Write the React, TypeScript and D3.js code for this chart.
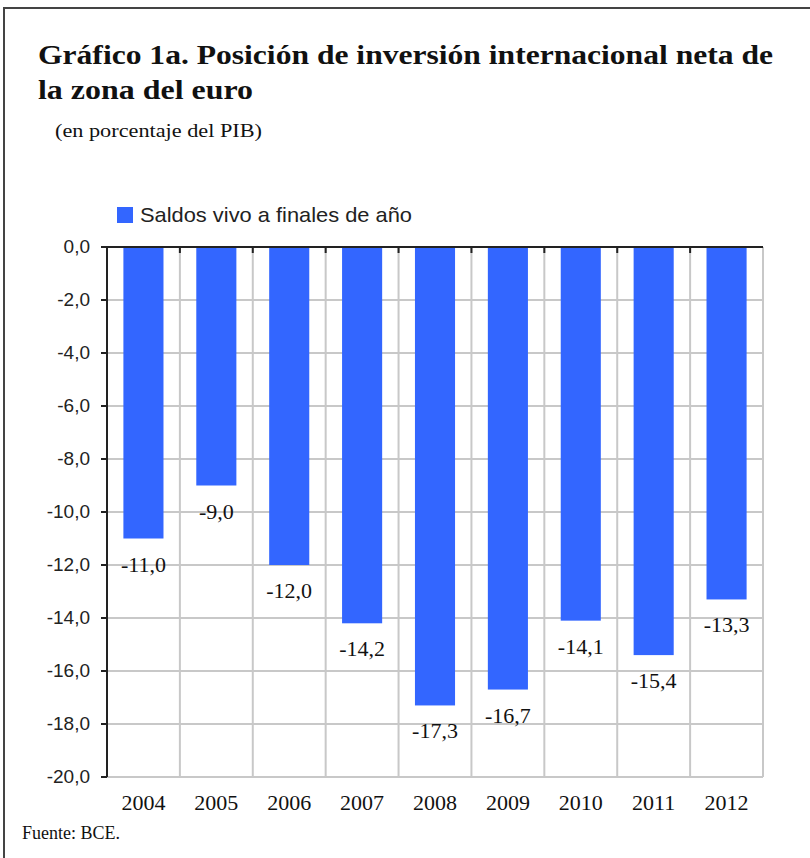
import React, { useEffect, useRef } from 'react';
import * as d3 from 'd3';

// datos del gráfico
const years = ['2004', '2005', '2006', '2007', '2008', '2009', '2010', '2011', '2012'];
const saldos = [-11.0, -9.0, -12.0, -14.2, -17.3, -16.7, -14.1, -15.4, -13.3];
const yTicks = [0, -2, -4, -6, -8, -10, -12, -14, -16, -18, -20];
const serieNombre = 'Saldos vivo a finales de año';

const fmt = (v: number) => v.toFixed(1).replace('.', ',');

const App = () => {
  const svgRef = useRef<SVGSVGElement>(null);

  useEffect(() => {
    const svg = d3.select(svgRef.current);
    svg.selectAll('*').remove();

    const width = 810;
    const height = 858;
    const left = 107, right = 763, top = 247, bottom = 777;

    svg.attr('width', width).attr('height', height);

    // marco exterior
    svg.append('rect')
      .attr('x', 4).attr('y', 8)
      .attr('width', 830).attr('height', 880)
      .attr('fill', 'none')
      .attr('stroke', '#444')
      .attr('stroke-width', 2);

    // títulos
    svg.append('text')
      .attr('x', 38).attr('y', 64)
      .attr('textLength', 735).attr('lengthAdjust', 'spacingAndGlyphs')
      .style('font-family', '"Liberation Serif", serif')
      .style('font-weight', 'bold')
      .style('font-size', '27px')
      .attr('fill', '#111')
      .text('Gráfico 1a. Posición de inversión internacional neta de');

    svg.append('text')
      .attr('x', 38).attr('y', 99)
      .attr('textLength', 215).attr('lengthAdjust', 'spacingAndGlyphs')
      .style('font-family', '"Liberation Serif", serif')
      .style('font-weight', 'bold')
      .style('font-size', '27px')
      .attr('fill', '#111')
      .text('la zona del euro');

    svg.append('text')
      .attr('x', 55).attr('y', 137)
      .attr('textLength', 207).attr('lengthAdjust', 'spacingAndGlyphs')
      .style('font-family', '"Liberation Serif", serif')
      .style('font-size', '18px')
      .attr('fill', '#111')
      .text('(en porcentaje del PIB)');

    // leyenda
    svg.append('rect')
      .attr('x', 117).attr('y', 207)
      .attr('width', 16).attr('height', 16)
      .attr('fill', '#3366ff');
    svg.append('text')
      .attr('x', 140).attr('y', 222)
      .attr('textLength', 272).attr('lengthAdjust', 'spacingAndGlyphs')
      .style('font-family', '"Liberation Sans", Arial, sans-serif')
      .style('font-size', '21px')
      .attr('fill', '#222')
      .text(serieNombre);

    const x = d3.scaleBand<string>()
      .domain(years)
      .range([left, right])
      .paddingInner(0.45)
      .paddingOuter(0.225);

    const y = d3.scaleLinear().domain([-20, 0]).range([bottom, top]);

    const step = x.step();
    const boundaries = years.map(d => (x(d) as number) - step * 0.225).concat([right]);

    // rejilla
    const g = svg.append('g');
    g.selectAll('line.h')
      .data(yTicks)
      .enter()
      .append('line')
      .attr('x1', left).attr('x2', right)
      .attr('y1', d => y(d)).attr('y2', d => y(d))
      .attr('stroke', '#c8c8c8')
      .attr('stroke-width', 2);

    g.selectAll('line.v')
      .data(boundaries.slice(1))
      .enter()
      .append('line')
      .attr('x1', d => d).attr('x2', d => d)
      .attr('y1', top).attr('y2', bottom)
      .attr('stroke', '#c8c8c8')
      .attr('stroke-width', 2);

    // barras
    svg.selectAll('rect.bar')
      .data(saldos)
      .enter()
      .append('rect')
      .attr('x', (d, i) => x(years[i]) as number)
      .attr('width', x.bandwidth())
      .attr('y', y(0))
      .attr('height', d => y(d) - y(0))
      .attr('fill', '#3366ff');

    // etiquetas de valor
    svg.selectAll('text.val')
      .data(saldos)
      .enter()
      .append('text')
      .attr('x', (d, i) => (x(years[i]) as number) + x.bandwidth() / 2)
      .attr('y', d => y(d) + 33)
      .attr('text-anchor', 'middle')
      .style('font-family', '"Liberation Serif", serif')
      .style('font-size', '22px')
      .attr('fill', '#111')
      .text(d => fmt(d));

    // eje izquierdo
    const axisY = svg.append('g');
    axisY.append('line')
      .attr('x1', left).attr('x2', left)
      .attr('y1', top).attr('y2', bottom)
      .attr('stroke', '#222').attr('stroke-width', 2);
    axisY.selectAll('line.t')
      .data(yTicks)
      .enter()
      .append('line')
      .attr('x1', left - 6).attr('x2', left)
      .attr('y1', d => y(d)).attr('y2', d => y(d))
      .attr('stroke', '#222').attr('stroke-width', 2);
    axisY.selectAll('text')
      .data(yTicks)
      .enter()
      .append('text')
      .attr('x', 90)
      .attr('y', d => y(d) + 6)
      .attr('text-anchor', 'end')
      .style('font-family', '"Liberation Sans", Arial, sans-serif')
      .style('font-size', '19px')
      .attr('fill', '#222')
      .text(d => fmt(d));

    // eje superior (en 0)
    const axisX = svg.append('g');
    axisX.append('line')
      .attr('x1', left).attr('x2', right)
      .attr('y1', top).attr('y2', top)
      .attr('stroke', '#222').attr('stroke-width', 2);
    axisX.selectAll('line.t')
      .data(boundaries.slice(1, -1))
      .enter()
      .append('line')
      .attr('x1', d => d).attr('x2', d => d)
      .attr('y1', top).attr('y2', top + 6)
      .attr('stroke', '#222').attr('stroke-width', 2);

    // años
    svg.selectAll('text.year')
      .data(years)
      .enter()
      .append('text')
      .attr('x', d => (x(d) as number) + x.bandwidth() / 2)
      .attr('y', 810)
      .attr('text-anchor', 'middle')
      .style('font-family', '"Liberation Serif", serif')
      .style('font-size', '22px')
      .attr('fill', '#111')
      .text(d => d);

    svg.append('text')
      .attr('x', 22).attr('y', 839)
      .style('font-family', '"Liberation Serif", serif')
      .style('font-size', '18px')
      .attr('fill', '#111')
      .text('Fuente: BCE.');
  }, []);

  return (
    <svg ref={svgRef} style={{ position: 'absolute', left: 0, top: 0, background: '#fff' }}></svg>
  );
};

export default App;
